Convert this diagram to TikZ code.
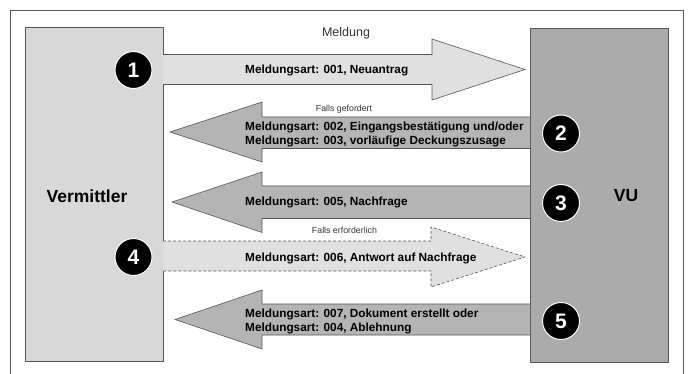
\documentclass[tikz,border=0pt]{standalone}
\usepackage{fontspec}
\setmainfont{Liberation Sans}
\definecolor{vmfill}{HTML}{D8D8D8}
\definecolor{vufill}{HTML}{ABABAB}
\definecolor{lightarrow}{HTML}{E0E0E0}
\definecolor{darkarrow}{HTML}{B4B4B4}
\definecolor{edge}{HTML}{555555}
\begin{document}
\begin{tikzpicture}[x=1pt,y=-1pt,
  frameline/.style={draw=black!65, line width=1pt},
  party/.style={draw=edge, line width=0.7pt},
  lightarr/.style={draw=edge, line width=0.6pt, fill=lightarrow},
  darkarr/.style={draw=edge, line width=0.6pt, fill=darkarrow},
  msg/.style={anchor=west, inner sep=0pt, align=left, font=\bfseries\fontsize{11.8}{14}\selectfont},
  note/.style={inner sep=0pt, font=\fontsize{8.8}{10}\selectfont, text=black!80},
  partyname/.style={inner sep=0pt, font=\bfseries\fontsize{17.5}{20}\selectfont},
  numcirc/.style={circle, fill=black, draw=white, line width=1pt, text=white, minimum size=37pt, inner sep=0pt, font=\bfseries\fontsize{21}{21}\selectfont}]
\useasboundingbox (0,0) rectangle (690,374);
% outer frame
\draw[frameline] (10.5,376) -- (10.5,11) -- (683,11) -- (683,376);
% parties
\path[party, fill=vmfill] (25,27) rectangle (163,361);
\path[party, fill=vufill] (530,28) rectangle (668,362);
% arrow 1 (right)
\path[lightarr] (163,54.5) -- (432,54.5) -- (432,39) -- (525,69.5) -- (432,100) -- (432,84.5) -- (163,84.5);
% arrow 2 (left)
\path[darkarr] (530,117) -- (262,117) -- (262,102) -- (170,132) -- (262,162) -- (262,148.5) -- (530,148.5);
% arrow 3 (left)
\path[darkarr] (530,186) -- (262,186) -- (262,172) -- (172,202) -- (262,232.5) -- (262,218.5) -- (530,218.5);
% arrow 4 (right, dashed)
\path[lightarr, dashed, dash pattern=on 3pt off 2pt] (163,241) -- (431,241) -- (431,227) -- (525,257) -- (431,287) -- (431,271) -- (163,271);
% arrow 5 (left)
\path[darkarr] (530,304) -- (262,304) -- (262,290) -- (175,319.5) -- (262,349) -- (262,335) -- (530,335);
% party labels
\node[partyname] (vm) at (87,196) {Vermittler};
\node[partyname] (vu) at (626,196) {VU};
% notes
\node[note, font=\fontsize{12.5}{14}\selectfont] (t0) at (346,33) {Meldung};
\node[note] (t2) at (344,109) {Falls gefordert};
\node[note] (t4) at (344.5,230) {Falls erforderlich};
% messages
\node[msg] (m1) at (245,70) {Meldungsart: 001, Neuantrag};
\node[msg] (m2) at (245,134) {Meldungsart: 002, Eingangsbestätigung und/oder\\Meldungsart: 003, vorläufige Deckungszusage};
\node[msg] (m3) at (245,202) {Meldungsart: 005, Nachfrage};
\node[msg] (m4) at (245,258) {Meldungsart: 006, Antwort auf Nachfrage};
\node[msg] (m5) at (245,321) {Meldungsart: 007, Dokument erstellt oder\\Meldungsart: 004, Ablehnung};
% step numbers
\node[numcirc] (c1) at (133.5,70) {1};
\node[numcirc] (c2) at (561,133.5) {2};
\node[numcirc] (c3) at (561,203) {3};
\node[numcirc] (c4) at (133.5,257) {4};
\node[numcirc] (c5) at (561,321) {5};
\end{tikzpicture}
\end{document}
